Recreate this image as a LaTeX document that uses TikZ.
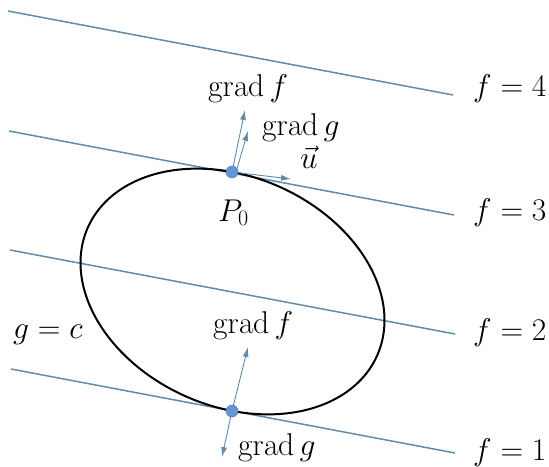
\documentclass[tikz,border=0pt]{standalone}
\usepackage{fix-cm}
\usepackage{amsmath}
\usetikzlibrary{arrows.meta}
\definecolor{lvl}{RGB}{95,140,170}
\definecolor{dotc}{RGB}{100,150,215}
\tikzset{
  level/.style={draw=lvl, line width=1.5pt},
  vec/.style={draw=lvl, line width=0.9pt, -{Latex[length=10pt,width=6pt]}},
  lab/.style={inner sep=0pt, anchor=base west, font=\fontsize{31.5}{38}\selectfont},
  pt/.style={circle, fill=dotc, draw=dotc!80!black, line width=0.5pt, minimum size=12pt, inner sep=0pt}
}
\begin{document}
\begin{tikzpicture}[x=1pt,y=-1pt]
\useasboundingbox (0,0) rectangle (549,466);
% level lines
\coordinate (a4) at (8,11);   \coordinate (b4) at (453,95);
\coordinate (a3) at (9,131);  \coordinate (b3) at (454,215);
\coordinate (a2) at (10,250); \coordinate (b2) at (455,334);
\coordinate (a1) at (11,369); \coordinate (b1) at (455,453);
\draw[level] (a4) -- (b4);
\draw[level] (a3) -- (b3);
\draw[level] (a2) -- (b2);
\draw[level] (a1) -- (b1);
% ellipse g=c
\draw[line width=2pt, black] plot[smooth cycle, samples=120, domain=0:357, variable=\t]
  ({232.5 + 158.2*cos(\t)*cos(23.75) - 114.8*sin(\t)*sin(23.75)},
   {291.5 + 158.2*cos(\t)*sin(23.75) + 114.8*sin(\t)*cos(23.75)});
% points
\coordinate (P0) at (232,172);
\coordinate (P1) at (232,411);
\coordinate (gfTop) at (245,110);
\coordinate (ggTopS) at (236,172);
\coordinate (ggTop) at (248,131);
\coordinate (uEnd) at (291,179);
\coordinate (gfBot) at (248,347);
\coordinate (ggBot) at (222,457);
\draw[vec] (P0) -- (gfTop);
\draw[vec] (ggTopS) -- (ggTop);
\draw[vec] (P0) -- (uEnd);
\draw[vec] (P1) -- (gfBot);
\draw[vec] (P1) -- (ggBot);
\node[pt] (d0) at (P0) {};
\node[pt] (d1) at (P1) {};
% labels
\node[lab] (l4) at (473,96) {$f=4$};
\node[lab] (l3) at (473,220) {$f=3$};
\node[lab] (l2) at (473,340) {$f=2$};
\node[lab] (l1) at (473,460) {$f=1$};
\node[lab] (gc) at (13,338) {$g=c$};
\node[lab] (tgf) at (208,96) {$\operatorname{grad} f$};
\node[lab] (tgg) at (262,135) {$\operatorname{grad} g$};
\node[lab] (tu) at (300,168) {$\vec{u}$};
\node[lab] (tP) at (218,221) {$P_0$};
\node[lab] (mgf) at (213,333) {$\operatorname{grad} f$};
\node[lab] (bgg) at (238,455) {$\operatorname{grad} g$};
\end{tikzpicture}
\end{document}
